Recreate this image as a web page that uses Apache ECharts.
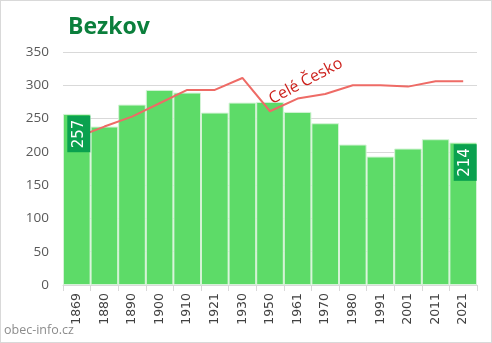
<!DOCTYPE html>
<html><head><meta charset="utf-8">
<script src="https://cdn.jsdelivr.net/npm/echarts@6/dist/echarts.min.js"></script>
<style>html,body{margin:0;padding:0;background:#fff}#c{width:492px;height:343px;box-sizing:border-box;border:1px solid #d9d9d9}</style>
</head><body><div id="c"></div>
<script>
const years = ['1869','1880','1890','1900','1910','1921','1930','1950','1961','1970','1980','1991','2001','2011','2021'];
const population = [257,238,271,293,289,259,274,275,260,243,211,193,205,219,214];
const czechiaScaled = [222,238,253,273,293,293,311,261,280,287,300,300,298,306,306];
const yTicks = {min:0, max:350, interval:50};

const chart = echarts.init(document.getElementById('c'));
const last = population.length - 1;
chart.setOption({
  animation:false,
  title:{text:'Bezkov', left:62, top:10, textStyle:{color:'#0b7f3c', fontSize:23, fontWeight:'bold', fontFamily:'Open Sans'}},
  graphic:[{type:'text', left:3, top:323, style:{text:'obec-info.cz', fill:'#8c8c8c', fontSize:12.5, fontFamily:'Open Sans'}}],
  grid:{left:62, right:14, top:51, bottom:57},
  xAxis:{type:'category', data:years,
    axisLine:{lineStyle:{color:'#d9d9d9'}},
    axisTick:{show:true, length:6, lineStyle:{color:'#d9d9d9'}},
    axisLabel:{rotate:90, color:'#404040', fontSize:12.5, fontFamily:'DejaVu Sans', margin:8}},
  yAxis:{type:'value', min:yTicks.min, max:yTicks.max, interval:yTicks.interval,
    axisLabel:{color:'#595959', fontSize:13.5, fontFamily:'Open Sans', margin:14},
    splitLine:{lineStyle:{color:'#d9d9d9'}}},
  series:[
    {type:'bar', data:population, barCategoryGap:'0%',
      itemStyle:{color:'#5ddb68', borderColor:'#d4f3d6', borderWidth:1}, z:2},
    {type:'line', data:czechiaScaled.map((v,i)=>{
        const o={value:v};
        if(i===8){o.label={show:true, formatter:'Celé Česko', position:'top', rotate:28, offset:[13,1], color:'#cc1f1a', fontSize:16, fontFamily:'Open Sans'};}
        return o;
      }),
      symbol:'circle', symbolSize:0, showSymbol:true, lineStyle:{color:'#ee6b66', width:2}, itemStyle:{color:'#ee6b66'}, z:3},
    {type:'bar', barGap:'-100%', silent:true, z:5,
      data:population.map((v,i)=>{
        if(i===0||i===last){
          return {value:v, label:{show:true, position:'insideTop', rotate:90, offset:[0,2], color:'#fff', fontSize:15, fontFamily:'DejaVu Sans',
            backgroundColor:'#0aa14f', padding:[4,4,4,4], align:'center', verticalAlign:'middle', formatter:'{c}', distance:20}};
        }
        return '-';
      }),
      itemStyle:{color:'rgba(0,0,0,0)'}}
  ]
});
</script></body></html>
